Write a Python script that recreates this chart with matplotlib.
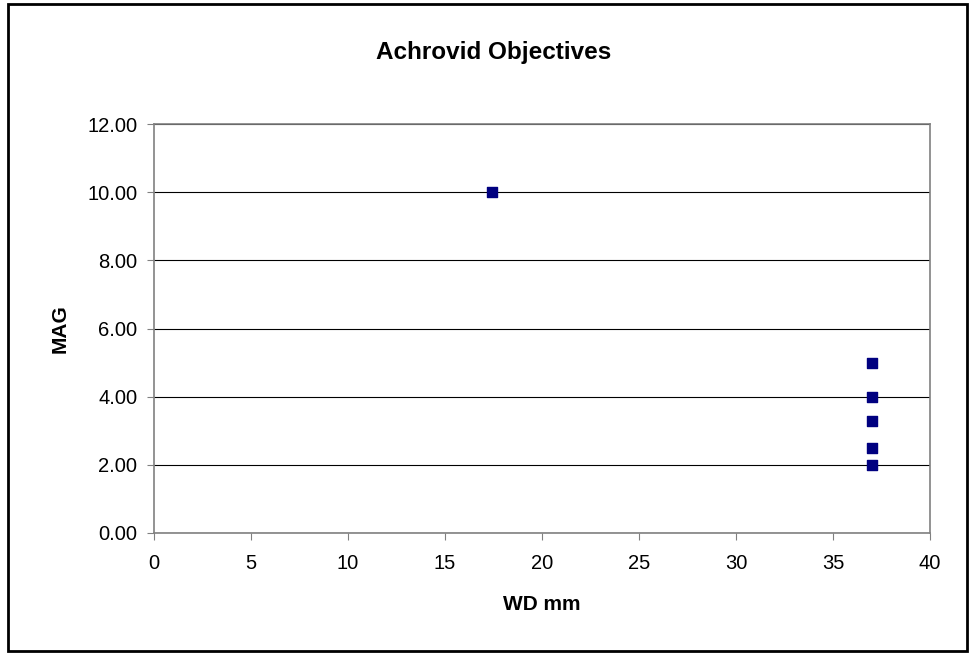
import matplotlib
matplotlib.use('Agg')
import matplotlib.pyplot as plt
from matplotlib.patches import Rectangle

# dados
wd_mm = [17.4, 37, 37, 37, 37, 37]
mag = [10.0, 5.0, 4.0, 3.3, 2.5, 2.0]
x_ticks = [0, 5, 10, 15, 20, 25, 30, 35, 40]
y_ticks = [0, 2, 4, 6, 8, 10, 12]

plt.rcParams['font.family'] = ['Liberation Sans', 'DejaVu Sans']

fig = plt.figure(figsize=(9.71, 6.56), dpi=100)
ax = fig.add_axes([154 / 971, 1 - 533 / 656, (930 - 154) / 971, (533 - 124) / 656])

# borda externa do gráfico
fig.patches.append(Rectangle((8 / 971, 5 / 656), 959 / 971, 647 / 656, transform=fig.transFigure,
                             fill=False, edgecolor='black', linewidth=2))

ax.scatter(wd_mm, mag, marker='s', s=55, color='#000080', zorder=3)

ax.set_xlim(0, 40)
ax.set_ylim(0, 12)
ax.set_xticks(x_ticks)
ax.set_yticks(y_ticks)
ax.set_yticklabels([f"{v:.2f}" for v in y_ticks])
ax.tick_params(labelsize=14.5, direction='out', length=5, color='#808080')
ax.tick_params(axis='y', pad=7)
ax.tick_params(axis='x', pad=10)
ax.yaxis.grid(True, color='black', linewidth=0.8)
ax.set_axisbelow(True)
for s in ax.spines.values():
    s.set_color('#808080')
    s.set_linewidth(1.2)

ax.set_xlabel('WD mm', fontsize=15, fontweight='bold', va='center')
ax.xaxis.set_label_coords(0.5, (533 - 604) / 409)
ax.set_ylabel('MAG', fontsize=15, fontweight='bold', va='center')
ax.yaxis.set_label_coords((60 - 154) / 776, 0.5)
fig.text(494 / 971, 1 - 52 / 656, 'Achrovid Objectives', ha='center', va='center',
         fontsize=17.5, fontweight='bold')

fig.savefig('out.png', dpi=100)
